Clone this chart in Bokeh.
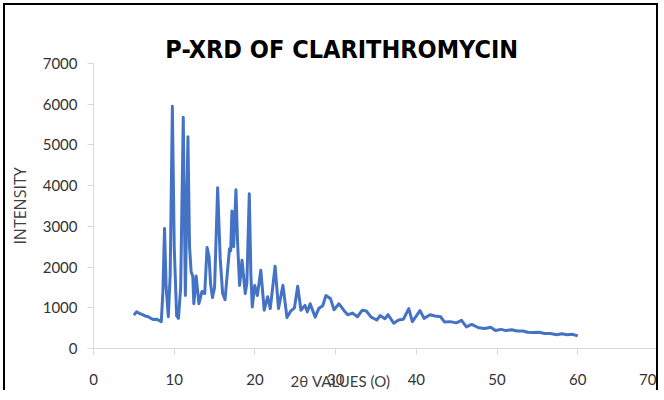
from bokeh.plotting import figure
from bokeh.models import Range1d, FixedTicker
from bokeh.embed import file_html
from bokeh.resources import INLINE

# ---- data ----
two_theta = [5.0, 5.35, 5.7, 6.0, 6.4, 6.8, 7.1, 7.45, 7.8, 8.1, 8.4, 8.6, 8.8, 9.0, 9.27,
             9.5, 9.77, 10.0, 10.3, 10.53, 10.8, 11.12, 11.38, 11.7, 11.9, 12.1, 12.3, 12.43,
             12.72, 13.06, 13.44, 13.78, 14.07, 14.32, 14.5, 14.74, 15.0, 15.38, 15.7, 16.0,
             16.3, 16.6, 16.85, 17.0, 17.15, 17.36, 17.65, 17.85, 18.1, 18.4, 18.8, 19.0,
             19.3, 19.5, 19.67, 19.97, 20.3, 20.73, 21.15, 21.57, 21.9, 22.5, 22.92, 23.47,
             23.97, 24.44, 24.9, 25.3, 25.7, 26.2, 26.5, 26.84, 27.47, 27.9, 28.4, 28.8,
             29.37, 29.8, 30.4, 31.05, 31.5, 32.1, 32.7, 33.3, 33.8, 34.4, 35.1, 35.5, 36.1,
             36.5, 37.2, 37.8, 38.4, 39.06, 39.5, 40.0, 40.45, 40.96, 41.7, 42.3, 43.0, 43.5,
             44.2, 44.95, 45.6, 46.2, 46.85, 47.7, 48.5, 49.2, 49.8, 50.5, 51.1, 51.8, 52.5,
             53.2, 53.8, 54.4, 55.2, 55.9, 56.6, 57.4, 58.0, 58.7, 59.3, 60.0]
intensity = [820, 900, 860, 840, 800, 780, 740, 710, 720, 690, 660, 1400, 2950, 1500, 780,
             1800, 5950, 2500, 800, 740, 1500, 5680, 1300, 5200, 2500, 1880, 1780, 1100,
             1780, 1100, 1400, 1350, 2480, 2250, 1600, 1250, 1500, 3950, 2200, 1350,
             1200, 1900, 2450, 2400, 3380, 2500, 3900, 2600, 1550, 2170, 1350, 1600,
             3800, 1800, 1020, 1550, 1300, 1920, 940, 1270, 980, 2020, 980, 1550,
             760, 920, 1000, 1530, 940, 1060, 900, 1100, 770, 980, 1050, 1300,
             1220, 950, 1100, 930, 830, 870, 780, 940, 920, 770, 700, 810, 730,
             830, 620, 700, 720, 980, 660, 800, 930, 740, 830, 800, 780, 650,
             660, 630, 690, 530, 590, 510, 490, 520, 440, 470, 440, 460, 430,
             430, 400, 390, 400, 370, 370, 340, 360, 340, 350, 310]

x_ticks = [0, 10, 20, 30, 40, 50, 60, 70]
y_ticks = [0, 1000, 2000, 3000, 4000, 5000, 6000, 7000]

title_text = "P-XRD OF CLARITHROMYCIN"
x_label_text = "2\u03b8 VALUES (O)"
y_label_text = "INTENSITY"

LINE_COLOR = "#4472C4"
AXIS_COLOR = "#d9d9d9"
TEXT_COLOR = "#333333"
FONT = "Lato"

p = figure(width=655, height=387, output_backend="svg", toolbar_location=None,
           x_range=Range1d(0, 70), y_range=Range1d(0, 7000),
           min_border_left=80, min_border_right=2, min_border_top=58, min_border_bottom=44)
p.styles = {"margin-left": "3px", "margin-top": "3px",
            "border-top": "2px solid black", "border-left": "2px solid black",
            "border-right": "2px solid black"}

p.outline_line_color = None
p.xgrid.grid_line_color = None
p.ygrid.grid_line_color = None
p.background_fill_color = "white"
p.border_fill_color = "white"

# title, shifted left of the frame centre with trailing spaces
p.title.text = title_text + "\u2003\u2003" + "\u00a0" * 3
p.title.align = "center"
p.title.text_font = "'DejaVu Sans Condensed', 'Liberation Sans Narrow', 'DejaVu Sans', sans-serif"
p.title.text_font_style = "bold"
p.title.text_font_size = "25px"
p.title.text_color = "black"
p.title.standoff = 0

for ax, ticks in ((p.xaxis[0], x_ticks), (p.yaxis[0], y_ticks)):
    ax.ticker = FixedTicker(ticks=ticks)
    ax.axis_line_color = AXIS_COLOR
    ax.major_tick_line_color = AXIS_COLOR
    ax.major_tick_out = 6
    ax.major_tick_in = 0
    ax.minor_tick_line_color = None
    ax.major_label_text_font = FONT
    ax.major_label_text_font_size = "15px"
    ax.major_label_text_color = TEXT_COLOR
    ax.axis_label_text_font_style = "normal"
    ax.axis_label_text_color = "#404040"

p.xaxis[0].major_label_standoff = 19
p.yaxis[0].major_label_standoff = 10

p.xaxis[0].axis_label = x_label_text + "\u2003" * 5 + "\u00a0" * 4
p.xaxis[0].axis_label_text_font = FONT
p.xaxis[0].axis_label_text_font_size = "15px"
p.xaxis[0].axis_label_standoff = -16
p.yaxis[0].axis_label = y_label_text
p.yaxis[0].axis_label_text_font = "Open Sans"
p.yaxis[0].axis_label_text_font_size = "16px"
p.yaxis[0].axis_label_standoff = 9

p.line(two_theta, intensity, line_color=LINE_COLOR, line_width=3, line_join="round")

open("out.html", "w").write(file_html(p, INLINE))
